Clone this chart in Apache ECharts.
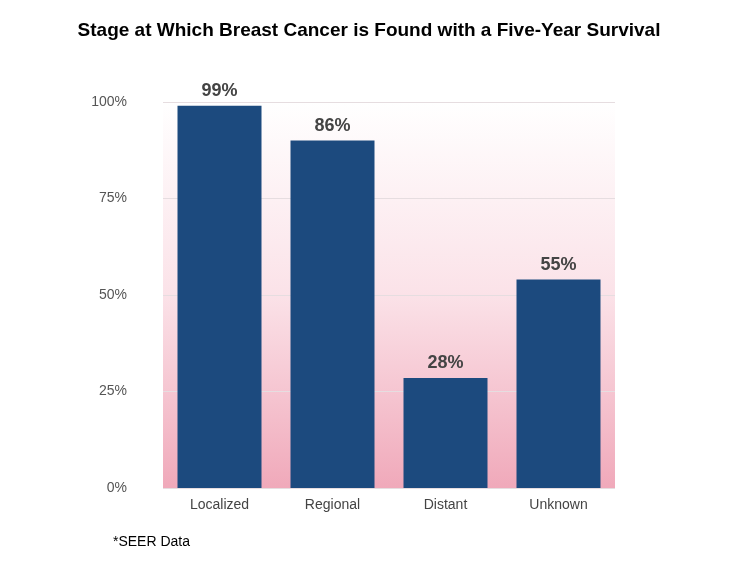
<!DOCTYPE html>
<html><head><meta charset="utf-8">
<script src="https://cdn.jsdelivr.net/npm/echarts@6/dist/echarts.min.js"></script>
<style>html,body{margin:0;background:#fff}#c{width:738px;height:561px}</style>
</head><body><div id="c"></div>
<script>
const categories = ['Localized', 'Regional', 'Distant', 'Unknown'];
const barValues = [99, 90, 28.5, 54];
const barLabels = ['99%', '86%', '28%', '55%'];
const yTicks = [0, 25, 50, 75, 100];

const chart = echarts.init(document.getElementById('c'));
chart.setOption({
  animation: false,
  title: {
    text: 'Stage at Which Breast Cancer is Found with a Five-Year Survival',
    left: 'center', top: 16,
    textStyle: {fontFamily: 'Liberation Sans', fontWeight: 'bold', fontSize: 19, color: '#000'}
  },
  graphic: [{
    type: 'text', left: 113, top: 535,
    style: {text: '*SEER Data', font: '14px "Liberation Sans"', fill: '#000'}
  }],
  grid: {
    left: 163, right: 123, top: 102, bottom: 73, show: true, borderWidth: 0,
    backgroundColor: new echarts.graphic.LinearGradient(0, 0, 0, 1, [
      {offset: 0, color: '#ffffff'}, {offset: 0.5, color: '#fbe2e8'}, {offset: 1, color: '#f0a9ba'}
    ])
  },
  xAxis: {
    type: 'category', data: categories,
    axisLine: {show: false}, axisTick: {show: false},
    axisLabel: {color: '#444', fontSize: 14, fontFamily: 'Liberation Sans', margin: 10}
  },
  yAxis: {
    type: 'value', min: 0, max: 100, interval: 25,
    axisLabel: {color: '#555', fontSize: 14, fontFamily: 'Liberation Sans', margin: 36,
      formatter: v => yTicks.includes(v) ? v + '%' : ''},
    splitLine: {lineStyle: {color: '#e6dde0'}},
    axisLine: {show: false}, axisTick: {show: false}
  },
  series: [{
    type: 'bar', data: barValues, barWidth: 84,
    itemStyle: {color: '#1c4a7e'},
    label: {show: true, position: 'top', distance: 6,
      formatter: p => barLabels[p.dataIndex],
      color: '#444', fontSize: 18, fontWeight: 'bold', fontFamily: 'Liberation Sans'}
  }]
});
</script></body></html>
